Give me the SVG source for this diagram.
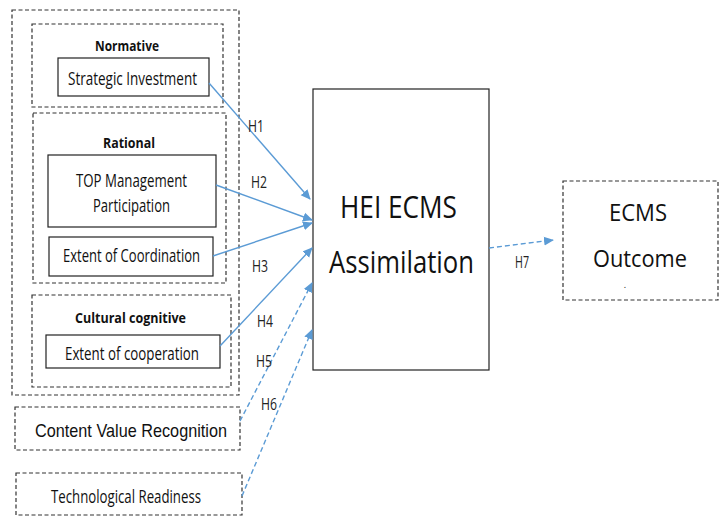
<svg xmlns="http://www.w3.org/2000/svg" width="723" height="523" viewBox="0 0 723 523">
<defs>
<style>
.dash{fill:none;stroke:#333;stroke-width:1.2;stroke-dasharray:4,2.5}
.solid{fill:#fff;stroke:#222;stroke-width:1.2}
.t{font-family:"Open Sans","Liberation Sans",sans-serif;fill:#111;text-anchor:middle}
.n{font-family:"Liberation Sans",Arial,sans-serif;fill:#111;text-anchor:middle}
.b{font-weight:bold}
.c{fill:none;stroke:#5b9bd5;stroke-width:1.4}
.cd{fill:none;stroke:#5b9bd5;stroke-width:1.4;stroke-dasharray:5,3}
.lbl{font-family:"Open Sans","Liberation Sans",sans-serif;font-size:16px;fill:#222}
</style>
<marker id="ah" viewBox="0 0 10 10" refX="9" refY="5" markerWidth="10" markerHeight="10" markerUnits="userSpaceOnUse" orient="auto">
<path d="M0,0.5 L10,5 L0,9.5 z" fill="#5b9bd5"/>
</marker>
</defs>
<rect width="723" height="523" fill="#fff"/>
<g id="outer"><rect class="dash" x="12" y="10" width="227" height="385"/></g>
<g id="normative">
<rect class="dash" x="32" y="24" width="191" height="83"/>
<text class="t b" x="127" y="50.5" font-size="15" textLength="64" lengthAdjust="spacingAndGlyphs">Normative</text>
</g>
<g id="strategic-investment">
<rect class="solid" x="58" y="58" width="151" height="38"/>
<text class="t" x="132.5" y="85" font-size="18" textLength="129" lengthAdjust="spacingAndGlyphs">Strategic Investment</text>
</g>
<g id="rational">
<rect class="dash" x="33" y="113" width="193" height="170"/>
<text class="t b" x="129" y="148" font-size="15" textLength="52" lengthAdjust="spacingAndGlyphs">Rational</text>
</g>
<g id="top-management">
<rect class="solid" x="48" y="155" width="168" height="72"/>
<text class="t" x="131.5" y="186.5" font-size="18" textLength="111" lengthAdjust="spacingAndGlyphs">TOP Management</text>
<text class="t" x="131.5" y="212" font-size="18" textLength="77" lengthAdjust="spacingAndGlyphs">Participation</text>
</g>
<g id="coordination">
<rect class="solid" x="49" y="237" width="164" height="39"/>
<text class="t" x="131.5" y="262" font-size="18" textLength="137" lengthAdjust="spacingAndGlyphs">Extent of Coordination</text>
</g>
<g id="cultural">
<rect class="dash" x="32" y="295" width="199" height="92"/>
<text class="t b" x="130.5" y="323" font-size="15" textLength="111" lengthAdjust="spacingAndGlyphs">Cultural cognitive</text>
</g>
<g id="cooperation">
<rect class="solid" x="46" y="335" width="174" height="33"/>
<text class="t" x="132" y="360" font-size="18" textLength="134" lengthAdjust="spacingAndGlyphs">Extent of cooperation</text>
</g>
<g id="content-value">
<rect class="dash" x="15" y="407" width="225" height="43"/>
<text class="n" x="131" y="437" font-size="19" textLength="192" lengthAdjust="spacingAndGlyphs">Content Value Recognition</text>
</g>
<g id="tech-readiness">
<rect class="dash" x="16" y="473" width="226" height="42"/>
<text class="t" x="126" y="503" font-size="17.5" textLength="150" lengthAdjust="spacingAndGlyphs">Technological Readiness</text>
</g>
<g id="hei-ecms">
<rect class="solid" x="313" y="89" width="176" height="281"/>
<text class="t" x="398.5" y="218" font-size="31" textLength="117" lengthAdjust="spacingAndGlyphs">HEI ECMS</text>
<text class="t" x="401.5" y="273" font-size="31" textLength="145" lengthAdjust="spacingAndGlyphs">Assimilation</text>
</g>
<g id="ecms-outcome">
<rect class="dash" x="563" y="181" width="155" height="119"/>
<text class="t" x="638" y="221" font-size="24" textLength="58" lengthAdjust="spacingAndGlyphs">ECMS</text>
<text class="t" x="640" y="267" font-size="24" textLength="94" lengthAdjust="spacingAndGlyphs">Outcome</text>
<text class="t" x="625" y="288" font-size="9">.</text>
</g>
<g id="connectors">
<line class="c" x1="209" y1="83" x2="310" y2="199" marker-end="url(#ah)"/>
<line class="c" x1="216" y1="185" x2="312" y2="220" marker-end="url(#ah)"/>
<line class="c" x1="213" y1="256" x2="312" y2="223" marker-end="url(#ah)"/>
<line class="c" x1="220" y1="346" x2="312" y2="248" marker-end="url(#ah)"/>
<line class="cd" x1="240" y1="421" x2="312" y2="283" marker-end="url(#ah)"/>
<line class="cd" x1="242" y1="496" x2="312" y2="330" marker-end="url(#ah)"/>
<line class="cd" x1="489" y1="248" x2="553" y2="240" marker-end="url(#ah)"/>
<text class="lbl" x="248" y="132" textLength="16" lengthAdjust="spacingAndGlyphs">H1</text>
<text class="lbl" x="251" y="188" textLength="16" lengthAdjust="spacingAndGlyphs">H2</text>
<text class="lbl" x="252" y="272" textLength="16" lengthAdjust="spacingAndGlyphs">H3</text>
<text class="lbl" x="257" y="327" textLength="16" lengthAdjust="spacingAndGlyphs">H4</text>
<text class="lbl" x="256" y="367" textLength="16" lengthAdjust="spacingAndGlyphs">H5</text>
<text class="lbl" x="261" y="410" textLength="16" lengthAdjust="spacingAndGlyphs">H6</text>
<text class="lbl" x="515" y="268" font-size="14" textLength="14" lengthAdjust="spacingAndGlyphs">H7</text>
</g>
</svg>
